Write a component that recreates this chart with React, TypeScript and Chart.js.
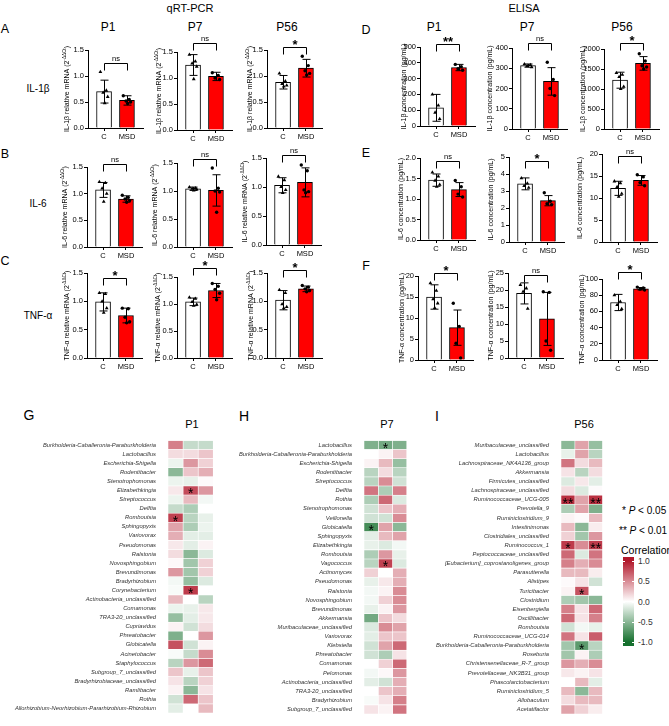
import React, { useEffect, useRef } from 'react';
import { Chart, registerables } from 'chart.js';

Chart.register(...registerables);

const FONT = "'Liberation Sans', Arial, Helvetica, sans-serif";

// ---------------- DATA ----------------
const GROUPS = ['C', 'MSD'];
const PERIODS = ['P1', 'P7', 'P56'];
const CYTOKINES = ['IL-1β', 'IL-6', 'TNF-α'];

// qRT-PCR, relative mRNA (2^-ΔΔCt); index = period P1, P7, P56; pairs = [C, MSD]
const QPCR_IL1B_MEAN = [[0.70, 0.53], [1.25, 1.03], [0.88, 1.15]];
const QPCR_IL1B_SD = [[0.22, 0.09], [0.20, 0.08], [0.13, 0.17]];
const QPCR_IL1B_C = [[1.08, 0.72, 0.68, 0.60, 0.48], [1.45, 1.32, 1.28, 1.22, 0.98], [1.05, 0.90, 0.85, 0.82, 0.80]];
const QPCR_IL1B_MSD = [[0.62, 0.55, 0.52, 0.50, 0.47], [1.10, 1.05, 1.00, 0.97], [1.38, 1.20, 1.10, 1.05, 1.02]];
const QPCR_IL1B_SIG = ['ns', 'ns', '*'];
const QPCR_IL1B_SIG_Y = [1.25, 1.68, 1.56];

const QPCR_IL6_MEAN = [[1.07, 0.90], [1.04, 1.01], [1.03, 1.08]];
const QPCR_IL6_SD = [[0.14, 0.06], [0.03, 0.28], [0.13, 0.25]];
const QPCR_IL6_C = [[1.22, 1.20, 1.10, 1.00, 0.85], [1.07, 1.05, 1.04, 1.03, 1.01], [1.18, 1.12, 1.00, 0.95, 0.90]];
const QPCR_IL6_MSD = [[0.97, 0.93, 0.90, 0.87, 0.84], [1.41, 1.05, 1.00, 0.98, 0.62], [1.38, 1.28, 0.95, 0.92, 0.90]];
const QPCR_IL6_SIG = ['ns', 'ns', 'ns'];
const QPCR_IL6_SIG_Y = [1.56, 1.58, 1.56];

const QPCR_TNF_MEAN = [[0.99, 0.75], [1.04, 1.25], [1.02, 1.22]];
const QPCR_TNF_SD = [[0.16, 0.13], [0.07, 0.13], [0.17, 0.05]];
const QPCR_TNF_C = [[1.15, 1.13, 1.00, 0.88, 0.80], [1.12, 1.10, 1.04, 0.99, 0.97], [1.20, 1.15, 0.95, 0.90, 0.88]];
const QPCR_TNF_MSD = [[0.88, 0.87, 0.72, 0.64, 0.62], [1.38, 1.33, 1.27, 1.20, 1.08], [1.28, 1.25, 1.22, 1.19, 1.17]];
const QPCR_TNF_SIG = ['*', '*', '*'];
const QPCR_TNF_SIG_Y = [1.42, 1.66, 1.56];

const QPCR_Y_MAX = [1.5, 1.5, 1.5];
const QPCR_Y_STEP = [0.5, 0.5, 0.5];

// ELISA, concentration (pg/mL)
const ELISA_IL1B_MEAN = [[115, 370], [313, 235], [1220, 1640]];
const ELISA_IL1B_SD = [[85, 20], [8, 68], [200, 170]];
const ELISA_IL1B_C = [[200, 130, 85, 45], [320, 316, 312, 305], [1400, 1360, 1300, 1060, 1000]];
const ELISA_IL1B_MSD = [[390, 375, 362, 353], [330, 245, 200, 165], [1880, 1700, 1580, 1550, 1500]];
const ELISA_IL1B_SIG = ['**', 'ns', '*'];
const ELISA_IL1B_SIG_Y = [520, 426, 2160];
const ELISA_IL1B_Y_MAX = [500, 400, 2000];
const ELISA_IL1B_Y_STEP = [100, 100, 500];

const ELISA_IL6_MEAN = [[1.46, 1.23], [3.42, 2.43], [12.2, 14.0]];
const ELISA_IL6_SD = [[0.15, 0.17], [0.35, 0.30], [1.6, 1.1]];
const ELISA_IL6_C = [[1.65, 1.55, 1.45, 1.35, 1.30], [3.75, 3.45, 3.30, 3.20], [13.8, 13.4, 12.5, 11.0, 10.3]];
const ELISA_IL6_MSD = [[1.45, 1.30, 1.12, 1.05], [2.90, 2.40, 2.25, 2.20], [15.3, 14.8, 13.5, 12.8]];
const ELISA_IL6_SIG = ['ns', '*', 'ns'];
const ELISA_IL6_SIG_Y = [1.93, 4.76, 19.6];
const ELISA_IL6_Y_MAX = [2.0, 5, 20];
const ELISA_IL6_Y_STEP = [0.5, 1, 5];

const ELISA_TNF_MEAN = [[15.0, 7.7], [19.0, 11.5], [71, 88]];
const ELISA_TNF_SD = [[2.9, 4.2], [3.1, 7.8], [10, 1.5]];
const ELISA_TNF_C = [[18.3, 16.5, 14.5, 13.5, 12.4], [21.5, 20.5, 19.5, 14.5], [80, 72, 68, 63]];
const ELISA_TNF_MSD = [[13.5, 8.0, 4.0, 0.5], [19.5, 19.3, 5.0, 2.3], [90, 89, 87.5, 86.5]];
const ELISA_TNF_SIG = ['*', 'ns', '*'];
const ELISA_TNF_SIG_Y = [20.6, 24.3, 109];
const ELISA_TNF_Y_MAX = [20, 25, 100];
const ELISA_TNF_Y_STEP = [5, 5, 20];

// Spearman correlation heatmaps: columns = IL-1β, IL-6, TNF-α
const G_TAXA = ['Burkholderia-Caballeronia-Paraburkholderia', 'Lactobacillus', 'Escherichia-Shigella', 'Rodentibacter', 'Stenotrophomonas', 'Elizabethkingia', 'Streptococcus', 'Delftia', 'Romboutsia', 'Sphingopyxis', 'Variovorax', 'Pseudomonas', 'Ralstonia', 'Novosphingobium', 'Brevundimonas', 'Bradyrhizobium', 'Corynebacterium', 'Actinobacteria_unclassified', 'Comamonas', 'TRA3-20_unclassified', 'Cupriavidus', 'Phreatobacter', 'Globicatella', 'Acinetobacter', 'Staphylococcus', 'Subgroup_7_unclassified', 'Bradyrhizobiaceae_unclassified', 'Ramlibacter', 'Rothia', 'Allorhizobium-Neorhizobium-Pararhizobium-Rhizobium'];
const G_CORR = [
  [0.55, -0.25, -0.25], [0.15, 0.15, 0.25], [-0.08, 0.45, 0.2], [-0.5, 0.25, 0.35], [-0.08, -0.1, 0.02],
  [0.1, 0.78, 0.45], [-0.08, 0.3, -0.05], [-0.25, -0.35, 0], [0.82, -0.3, -0.1], [0.4, -0.35, -0.08],
  [0.35, -0.12, -0.12], [0.1, -0.12, 0.05], [0.15, -0.5, -0.15], [0.03, -0.4, 0.2], [0.45, -0.4, 0.2],
  [-0.05, -0.45, -0.15], [-0.03, 0.85, 0], [0.3, 0, -0.3], [-0.08, -0.1, 0.1], [-0.45, -0.12, 0.1],
  [0.05, -0.2, 0.15], [-0.55, 0, 0.45], [0.75, -0.2, 0.05], [-0.03, -0.25, 0.5], [-0.3, 0.45, 0.65],
  [0.25, -0.1, 0.25], [0.12, -0.3, 0.2], [0.05, -0.5, 0.12], [-0.2, 0.65, 0.25], [-0.12, 0, 0.3],
];
const G_SIG: [number, number, string][] = [[5, 1, '*'], [8, 0, '*'], [16, 1, '*']];

const H_TAXA = ['Lactobacillus', 'Burkholderia-Caballeronia-Paraburkholderia', 'Escherichia-Shigella', 'Rodentibacter', 'Streptococcus', 'Delftia', 'Rothia', 'Stenotrophomonas', 'Veillonella', 'Globicatella', 'Sphingopyxis', 'Elizabethkingia', 'Romboutsia', 'Vagococcus', 'Actinomyces', 'Pseudomonas', 'Ralstonia', 'Novosphingobium', 'Brevundimonas', 'Akkermansia', 'Muribaculaceae_unclassified', 'Variovorax', 'Klebsiella', 'Phreatobacter', 'Comamonas', 'Pelomonas', 'Actinobacteria_unclassified', 'TRA3-20_unclassified', 'Bradyrhizobium', 'Subgroup_7_unclassified'];
const H_CORR = [
  [-0.55, -0.6, -0.55], [0, 0.05, 0.25], [0.05, 0.3, -0.45], [-0.3, 0.15, -0.3], [-0.3, 0.5, -0.2],
  [0.6, -0.35, 0.55], [-0.35, 0.65, -0.15], [-0.2, 0.25, 0.35], [-0.2, -0.2, 0.5], [-0.8, 0.4, -0.5],
  [-0.12, 0.3, 0.4], [-0.1, -0.15, -0.05], [-0.35, 0.45, -0.1], [-0.3, 0.82, -0.15], [0.2, 0, 0.35],
  [-0.1, 0.1, 0.35], [-0.05, 0.05, 0.5], [-0.05, 0.2, 0.5], [-0.1, 0.05, 0.45], [-0.6, 0.25, 0.15],
  [-0.15, 0.5, 0.4], [-0.12, 0.25, 0.25], [-0.2, 0.4, 0.65], [-0.2, -0.35, 0.12], [0, 0.2, 0.65],
  [-0.05, 0.03, 0.45], [-0.12, -0.2, 0.35], [0, 0.25, 0.35], [-0.03, 0.12, 0.55], [0.12, 0.05, 0.6],
];
const H_SIG: [number, number, string][] = [[0, 1, '*'], [9, 0, '*'], [13, 1, '*']];

const I_TAXA = ['Muribaculaceae_unclassified', 'Lactobacillus', 'Lachnospiraceae_NK4A136_group', 'Akkermansia', 'Firmicutes_unclassified', 'Lachnospiraceae_unclassified', 'Ruminococcaceae_UCG-005', 'Prevotella_9', 'Ruminiclostridium_9', 'Intestinimonas', 'Clostridiales_unclassified', 'Ruminococcus_1', 'Peptococcaceae_unclassified', '[Eubacterium]_coprostanoligenes_group', 'Parasutterella', 'Alistipes', 'Turicibacter', 'Clostridium', 'Eisenbergiella', 'Oscillibacter', 'Romboutsia', 'Ruminococcaceae_UCG-014', 'Burkholderia-Caballeronia-Paraburkholderia', 'Roseburia', 'Christensenellaceae_R-7_group', 'Prevotellaceae_NK3B31_group', 'Phascolarctobacterium', 'Ruminiclostridium_5', 'Allobaculum', 'Acetatifactor'];
const I_CORR = [
  [-0.5, 0.4, -0.45], [-0.1, 0.4, -0.3], [0.6, 0.15, 0.3], [0.12, -0.3, 0.15], [-0.15, 0.1, -0.12],
  [0.15, -0.15, 0.02], [0.9, 0.4, 0.9], [-0.35, 0.4, -0.55], [0.05, 0.02, 0.3], [0.3, -0.5, 0.08],
  [0.2, -0.4, 0.45], [0.85, 0.5, 0.85], [0.65, -0.15, 0.6], [0.55, 0.35, 0.5], [0.3, 0.3, 0.08],
  [0.02, 0.12, -0.2], [0.05, 0.75, 0], [-0.35, -0.4, -0.5], [0.55, 0.12, 0.65], [0.65, 0.12, 0.55],
  [-0.2, -0.05, -0.1], [0.6, 0.12, 0.7], [-0.4, -0.7, -0.3], [-0.4, 0.05, -0.35], [0.45, 0.35, 0.5],
  [0.1, 0.05, 0.12], [0, 0.3, -0.12], [0.3, -0.5, 0.3], [0.15, 0.3, 0.3], [0.4, 0.2, 0.08],
];
const I_SIG: [number, number, string][] = [[6, 0, '**'], [6, 2, '**'], [11, 0, '*'], [11, 2, '**'], [16, 1, '*'], [22, 1, '*']];

const COLORBAR_TICKS = [1.0, 0.5, 0.0, -0.5, -1.0];

// ---------------- STYLE / LAYOUT ----------------
const BAR_FILL = ['#ffffff', '#ff0000'];
const X_MIN = 0.3;
const X_MAX = 2.7;
const PLOT_W = 55;
const Y_BOX = 30;
const X_BOX = 14;
const PAD_TOP = 26;
const PAD_RIGHT = 4;
const JITTER = [-0.16, 0.1, -0.04, 0.16, 0.03];
const HI = [178, 24, 43];
const LO = [22, 112, 46];

// [axis left, y of top tick, y of zero, y-title offset]
const QPCR_LAYOUT = [
  [[88, 50, 128, 21], [177, 52, 130, 18], [267, 50, 128, 17]],
  [[87, 167, 247, 22], [177, 163, 247, 22], [266, 158, 245, 21]],
  [[87, 273, 358, 20], [177, 277, 358, 19], [267, 273, 358, 16]],
];
const ELISA_LAYOUT = [
  [[420, 47, 126, 16], [512, 48, 129, 22], [604, 49, 129, 21]],
  [[420, 158, 240, 19], [509, 157, 242, 18], [602, 154, 242, 22]],
  [[418, 276, 360, 16], [508, 273, 358, 17], [602, 279, 360, 20]],
];

type TitlePart = [string, boolean];
type Panel = {
  layout: number[]; ymax: number; step: number; dec: number;
  mean: number[]; sd: number[]; cPts: number[]; mPts: number[];
  sig: string; sigY: number; title: TitlePart[];
};

const QPCR_SETS = [
  { mean: QPCR_IL1B_MEAN, sd: QPCR_IL1B_SD, c: QPCR_IL1B_C, m: QPCR_IL1B_MSD, sig: QPCR_IL1B_SIG, sigY: QPCR_IL1B_SIG_Y },
  { mean: QPCR_IL6_MEAN, sd: QPCR_IL6_SD, c: QPCR_IL6_C, m: QPCR_IL6_MSD, sig: QPCR_IL6_SIG, sigY: QPCR_IL6_SIG_Y },
  { mean: QPCR_TNF_MEAN, sd: QPCR_TNF_SD, c: QPCR_TNF_C, m: QPCR_TNF_MSD, sig: QPCR_TNF_SIG, sigY: QPCR_TNF_SIG_Y },
];
const ELISA_SETS = [
  { mean: ELISA_IL1B_MEAN, sd: ELISA_IL1B_SD, c: ELISA_IL1B_C, m: ELISA_IL1B_MSD, sig: ELISA_IL1B_SIG, sigY: ELISA_IL1B_SIG_Y, ymax: ELISA_IL1B_Y_MAX, step: ELISA_IL1B_Y_STEP },
  { mean: ELISA_IL6_MEAN, sd: ELISA_IL6_SD, c: ELISA_IL6_C, m: ELISA_IL6_MSD, sig: ELISA_IL6_SIG, sigY: ELISA_IL6_SIG_Y, ymax: ELISA_IL6_Y_MAX, step: ELISA_IL6_Y_STEP },
  { mean: ELISA_TNF_MEAN, sd: ELISA_TNF_SD, c: ELISA_TNF_C, m: ELISA_TNF_MSD, sig: ELISA_TNF_SIG, sigY: ELISA_TNF_SIG_Y, ymax: ELISA_TNF_Y_MAX, step: ELISA_TNF_Y_STEP },
];

const PANELS: Panel[] = [];
QPCR_SETS.forEach((s, g) => {
  PERIODS.forEach((_, p) => {
    PANELS.push({
      layout: QPCR_LAYOUT[g][p], ymax: QPCR_Y_MAX[p], step: QPCR_Y_STEP[p], dec: 1,
      mean: s.mean[p], sd: s.sd[p], cPts: s.c[p], mPts: s.m[p], sig: s.sig[p], sigY: s.sigY[p],
      title: [[`${CYTOKINES[g]} relative mRNA (2`, false], ['-ΔΔCt', true], [')', false]],
    });
  });
});
ELISA_SETS.forEach((s, g) => {
  PERIODS.forEach((_, p) => {
    PANELS.push({
      layout: ELISA_LAYOUT[g][p], ymax: s.ymax[p], step: s.step[p], dec: s.step[p] < 1 ? 1 : 0,
      mean: s.mean[p], sd: s.sd[p], cPts: s.c[p], mPts: s.m[p], sig: s.sig[p], sigY: s.sigY[p],
      title: [[`${CYTOKINES[g]} concentration (pg/mL)`, false]],
    });
  });
});

function mix(c: number[], t: number) {
  return `rgb(${c.map((v) => Math.round(255 + (v - 255) * t)).join(',')})`;
}
function corrColor(v: number) {
  const t = Math.min(1, Math.abs(v));
  return mix(v >= 0 ? HI : LO, t);
}

// ---------------- PLUGINS ----------------
function yTitlePlugin(parts: TitlePart[], tOff: number) {
  return {
    id: 'ytitle',
    afterDraw(chart: any) {
      const { ctx, chartArea } = chart;
      const cx = chartArea.left - tOff;
      const cy = (chartArea.top + chartArea.bottom) / 2;
      ctx.save();
      ctx.translate(cx, cy);
      ctx.rotate(-Math.PI / 2);
      ctx.fillStyle = '#000';
      ctx.textBaseline = 'middle';
      ctx.textAlign = 'left';
      const fonts = parts.map(([, sup]) => `${sup ? 4.6 : 7}px ${FONT}`);
      let total = 0;
      const widths = parts.map(([t], i) => {
        ctx.font = fonts[i];
        const w = ctx.measureText(t).width;
        total += w;
        return w;
      });
      let x = -total / 2;
      parts.forEach(([t, sup], i) => {
        ctx.font = fonts[i];
        ctx.fillText(t, x, sup ? -2.3 : 0);
        x += widths[i];
      });
      ctx.restore();
    },
  };
}

function errorBarPlugin(p: Panel) {
  return {
    id: 'errbars',
    afterDatasetsDraw(chart: any) {
      const { ctx, scales } = chart;
      const xs = scales.x;
      const ys = scales.y;
      ctx.save();
      ctx.strokeStyle = '#000';
      ctx.lineWidth = 1;
      p.mean.forEach((m, i) => {
        const px = Math.round(xs.getPixelForValue(i + 1)) + 0.5;
        const t = ys.getPixelForValue(m + p.sd[i]);
        const b = ys.getPixelForValue(Math.max(0, m - p.sd[i]));
        ctx.beginPath();
        ctx.moveTo(px, t);
        ctx.lineTo(px, b);
        ctx.moveTo(px - 4, t);
        ctx.lineTo(px + 4, t);
        ctx.moveTo(px - 4, b);
        ctx.lineTo(px + 4, b);
        ctx.stroke();
      });
      ctx.restore();
    },
  };
}

function bracketPlugin(p: Panel) {
  return {
    id: 'bracket',
    afterDraw(chart: any) {
      const { ctx, scales } = chart;
      const x1 = Math.round(scales.x.getPixelForValue(1)) + 0.5;
      const x2 = Math.round(scales.x.getPixelForValue(2)) + 0.5;
      const yb = Math.round(scales.y.getPixelForValue(p.sigY)) + 0.5;
      ctx.save();
      ctx.strokeStyle = '#000';
      ctx.lineWidth = 1;
      ctx.beginPath();
      ctx.moveTo(x1, yb + 7);
      ctx.lineTo(x1, yb);
      ctx.lineTo(x2, yb);
      ctx.lineTo(x2, yb + 7);
      ctx.stroke();
      ctx.fillStyle = '#000';
      ctx.textAlign = 'center';
      ctx.textBaseline = 'alphabetic';
      if (p.sig === 'ns') {
        ctx.font = `7.5px ${FONT}`;
        ctx.fillText('ns', (x1 + x2) / 2, yb - 3);
      } else {
        ctx.font = `bold 13px ${FONT}`;
        ctx.fillText(p.sig, (x1 + x2) / 2, yb + 1.5);
      }
      ctx.restore();
    },
  };
}

function barConfig(p: Panel): any {
  const tOff = p.layout[3];
  const font = { family: FONT, size: 7.5 };
  return {
    type: 'bar',
    data: {
      datasets: [
        {
          type: 'scatter',
          data: p.cPts.map((v, i) => ({ x: 1 + JITTER[i % JITTER.length], y: v })),
          pointStyle: 'triangle', pointRadius: 2.2, backgroundColor: '#000', borderColor: '#000', borderWidth: 0,
          order: 0, clip: false,
        },
        {
          type: 'scatter',
          data: p.mPts.map((v, i) => ({ x: 2 + JITTER[i % JITTER.length], y: v })),
          pointStyle: 'circle', pointRadius: 1.7, backgroundColor: '#000', borderColor: '#000', borderWidth: 0,
          order: 0, clip: false,
        },
        {
          type: 'bar',
          data: p.mean.map((v, i) => ({ x: i + 1, y: v })),
          backgroundColor: BAR_FILL, borderColor: '#000', borderWidth: 1, barThickness: 15, order: 5,
        },
      ],
    },
    options: {
      responsive: false,
      animation: false,
      events: [],
      layout: { padding: { top: PAD_TOP, right: PAD_RIGHT, left: 0, bottom: 0 } },
      plugins: { legend: { display: false }, tooltip: { enabled: false } },
      scales: {
        x: {
          type: 'linear', min: X_MIN, max: X_MAX, offset: false,
          afterBuildTicks: (s: any) => { s.ticks = [{ value: 1 }, { value: 2 }]; },
          afterFit: (s: any) => { s.height = X_BOX; },
          ticks: { callback: (v: number) => GROUPS[Math.round(v) - 1], font, color: '#000', padding: 1, maxRotation: 0, autoSkip: false },
          grid: { drawOnChartArea: false, color: '#000', tickLength: 3, offset: false },
          border: { color: '#000', width: 1 },
        },
        y: {
          min: 0, max: p.ymax,
          afterFit: (s: any) => { s.width = Y_BOX; },
          ticks: { stepSize: p.step, callback: (v: number) => Number(v).toFixed(p.dec), font, color: '#000', padding: 1 },
          grid: { drawOnChartArea: false, color: '#000', tickLength: 3 },
          border: { color: '#000', width: 1 },
        },
      },
    },
    plugins: [errorBarPlugin(p), bracketPlugin(p), yTitlePlugin(p.title, tOff)],
  };
}

function heatConfig(taxa: string[], corr: number[][], sig: [number, number, string][], box: number): any {
  return {
    type: 'bar',
    data: {
      labels: taxa,
      datasets: CYTOKINES.map((_, j) => ({
        data: taxa.map(() => [j, j + 1]),
        backgroundColor: corr.map((r) => corrColor(r[j])),
        borderColor: '#ffffff',
        borderWidth: 0.6,
        borderSkipped: false,
        barPercentage: 1,
        categoryPercentage: 1,
        grouped: false,
      })),
    },
    options: {
      indexAxis: 'y',
      responsive: false,
      animation: false,
      events: [],
      layout: { padding: { top: 0, right: 2, left: 0, bottom: 0 } },
      plugins: { legend: { display: false }, tooltip: { enabled: false } },
      scales: {
        x: {
          type: 'linear', min: 0, max: 3, offset: false,
          afterBuildTicks: (s: any) => { s.ticks = [{ value: 0.5 }, { value: 1.5 }, { value: 2.5 }]; },
          afterFit: (s: any) => { s.height = 16; },
          ticks: { callback: (v: number) => CYTOKINES[Math.floor(v)], font: { family: FONT, size: 7 }, color: '#333', padding: 4, maxRotation: 0, minRotation: 0, autoSkip: false },
          grid: { display: false, offset: false },
          border: { display: false },
        },
        y: {
          type: 'category',
          afterFit: (s: any) => { s.width = box; },
          ticks: { font: { family: FONT, size: 5.8, style: 'italic' }, color: '#333', padding: 4, autoSkip: false },
          grid: { display: false },
          border: { display: false },
        },
      },
    },
    plugins: [{
      id: 'stars',
      afterDatasetsDraw(chart: any) {
        const { ctx, scales } = chart;
        ctx.save();
        ctx.fillStyle = '#000';
        ctx.textAlign = 'center';
        ctx.textBaseline = 'alphabetic';
        ctx.font = `14px ${FONT}`;
        sig.forEach(([r, c, mark]) => {
          const x = scales.x.getPixelForValue(c + 0.5);
          const y = scales.y.getPixelForValue(r);
          ctx.fillText(mark, x, y + 0.6 * 14 - 0.5);
        });
        ctx.restore();
      },
    }],
  };
}

// ---------------- COMPONENTS ----------------
function ChartBox({ x, y, w, h, make }: { x: number; y: number; w: number; h: number; make: () => any }) {
  const ref = useRef<HTMLCanvasElement>(null);
  useEffect(() => {
    const chart = new Chart(ref.current as HTMLCanvasElement, make());
    return () => chart.destroy();
  }, []);
  return <canvas ref={ref} width={w} height={h} style={{ position: 'absolute', left: x, top: y, width: w, height: h }} />;
}

function BarPanel({ p }: { p: Panel }) {
  const [L, T, B] = p.layout;
  const w = Y_BOX + PLOT_W + PAD_RIGHT;
  const h = PAD_TOP + (B - T) + X_BOX;
  return <ChartBox x={L - Y_BOX} y={T - PAD_TOP} w={w} h={h} make={() => barConfig(p)} />;
}

function Heatmap({ left, right, top, bottom, box, taxa, corr, sig }: any) {
  const w = box + (right - left) + 2;
  const h = bottom - top + 16;
  return <ChartBox x={left - box} y={top} w={w} h={h} make={() => heatConfig(taxa, corr, sig, box)} />;
}

function Txt({ x, y, s, children, anchor = 'c', style }: any) {
  const tr = anchor === 'c' ? 'translate(-50%,-50%)' : anchor === 'l' ? 'translate(0,-50%)' : 'translate(-100%,-50%)';
  return (
    <div style={{ position: 'absolute', left: x, top: y, transform: tr, fontSize: s, whiteSpace: 'nowrap', lineHeight: 1, color: '#000', ...style }}>
      {children}
    </div>
  );
}

export default function App() {
  const cbTop = 557;
  const cbH = 89;
  const cbVal = (v: number) => cbTop + (cbH * (1.1 - v)) / 2.2;
  const grad = `linear-gradient(to bottom, ${mix(HI, 1)} 0%, ${mix(HI, 1)} 4.5%, #ffffff 50%, ${mix(LO, 1)} 95.5%, ${mix(LO, 1)} 100%)`;
  return (
    <div style={{ position: 'absolute', left: 0, top: 0, width: 669, height: 726, background: '#fff', overflow: 'hidden', fontFamily: FONT }}>
      <Txt x={190} y={8} s={11}>qRT-PCR</Txt>
      <Txt x={524} y={8} s={11}>ELISA</Txt>

      <Txt x={5} y={29} s={12.5}>A</Txt>
      <Txt x={5} y={154} s={12.5}>B</Txt>
      <Txt x={5} y={261} s={12.5}>C</Txt>
      <Txt x={366} y={30} s={12.5}>D</Txt>
      <Txt x={366} y={153} s={12.5}>E</Txt>
      <Txt x={366} y={266} s={12.5}>F</Txt>

      <Txt x={38} y={89} s={10}>{CYTOKINES[0]}</Txt>
      <Txt x={38} y={204} s={10}>{CYTOKINES[1]}</Txt>
      <Txt x={38} y={316} s={10}>{CYTOKINES[2]}</Txt>

      <Txt x={108} y={27} s={12}>{PERIODS[0]}</Txt>
      <Txt x={195} y={27} s={12}>{PERIODS[1]}</Txt>
      <Txt x={287} y={27} s={12}>{PERIODS[2]}</Txt>
      <Txt x={434} y={27} s={12}>{PERIODS[0]}</Txt>
      <Txt x={527} y={27} s={12}>{PERIODS[1]}</Txt>
      <Txt x={622} y={27} s={12}>{PERIODS[2]}</Txt>

      {PANELS.map((p, i) => <BarPanel key={i} p={p} />)}

      <Txt x={29} y={415} s={14}>G</Txt>
      <Txt x={244} y={416} s={14}>H</Txt>
      <Txt x={437} y={416} s={14}>I</Txt>
      <Txt x={192} y={424} s={11}>{PERIODS[0]}</Txt>
      <Txt x={387} y={424} s={11}>{PERIODS[1]}</Txt>
      <Txt x={584} y={424} s={11}>{PERIODS[2]}</Txt>

      <Heatmap left={168} right={218} top={433} bottom={713} box={168} taxa={G_TAXA} corr={G_CORR} sig={G_SIG} />
      <Heatmap left={364} right={412} top={433} bottom={714} box={134} taxa={H_TAXA} corr={H_CORR} sig={H_SIG} />
      <Heatmap left={561} right={608} top={433} bottom={714} box={133} taxa={I_TAXA} corr={I_CORR} sig={I_SIG} />

      <Txt x={622} y={511} s={10} anchor="l">* <i>P</i> &lt; 0.05</Txt>
      <Txt x={619} y={531} s={10} anchor="l">** <i>P</i> &lt; 0.01</Txt>
      <Txt x={621} y={550} s={10.5} anchor="l">Correlation</Txt>
      <div style={{ position: 'absolute', left: 623, top: cbTop, width: 11, height: cbH, background: grad }} />
      {COLORBAR_TICKS.map((v) => (
        <React.Fragment key={v}>
          <div style={{ position: 'absolute', left: 623, top: Math.round(cbVal(v)), width: 2, height: 1, background: '#fff' }} />
          <div style={{ position: 'absolute', left: 632, top: Math.round(cbVal(v)), width: 2, height: 1, background: '#fff' }} />
          <Txt x={638} y={cbVal(v)} s={8.5} anchor="l" style={{ color: '#333' }}>{v.toFixed(1)}</Txt>
        </React.Fragment>
      ))}
    </div>
  );
}
